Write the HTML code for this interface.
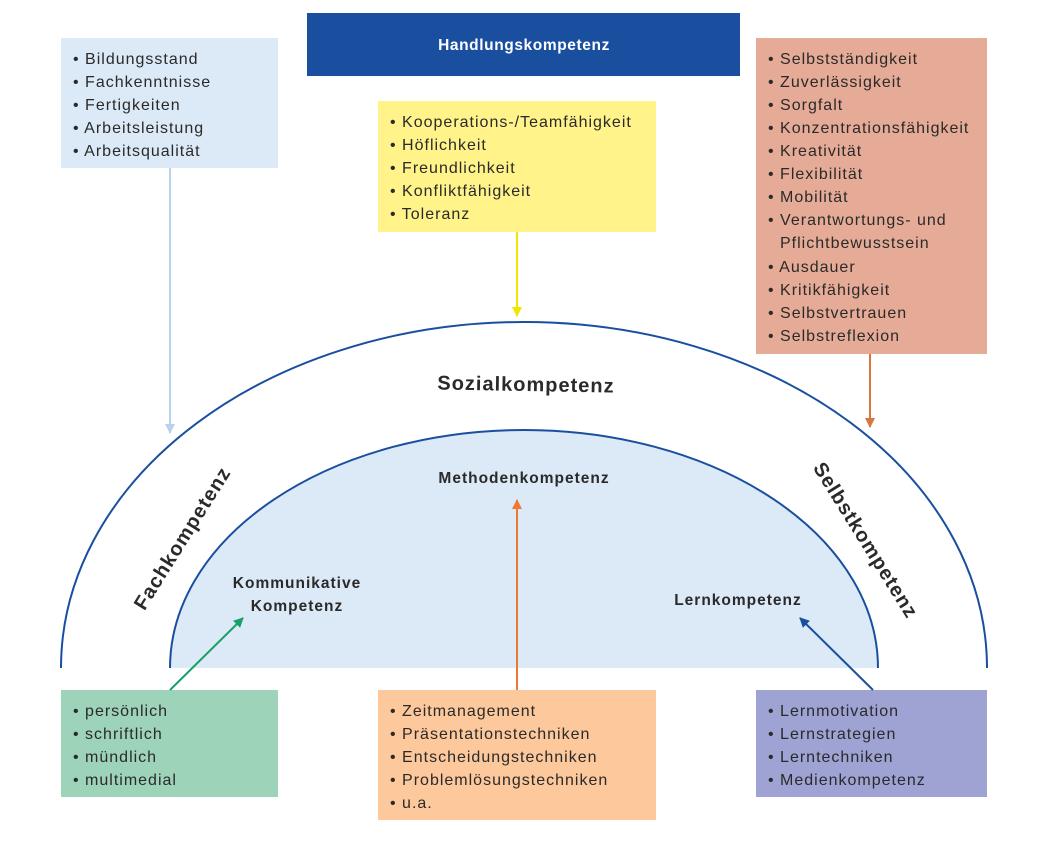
<!DOCTYPE html>
<html><head><meta charset="utf-8"><style>
html,body{margin:0;padding:0;background:#fff;}
svg{display:block;font-family:"Liberation Sans","DejaVu Sans",sans-serif;}
.t{font-size:16px;fill:#2a2a2a;letter-spacing:1px;}
.b{font-size:15.5px;fill:#2a2a2a;font-weight:bold;letter-spacing:1px;}
.L{font-size:20px;font-weight:bold;fill:#2a2a2a;letter-spacing:1px;}
</style></head><body>
<svg width="1060" height="844" viewBox="0 0 1060 844" xmlns="http://www.w3.org/2000/svg">
<defs>
<marker id="m1" markerWidth="10" markerHeight="10" refX="9" refY="5" orient="auto" markerUnits="userSpaceOnUse"><path d="M0,0 L10,5 L0,10 z" fill="#b9d3ec"/></marker>
<marker id="m2" markerWidth="10" markerHeight="10" refX="9" refY="5" orient="auto" markerUnits="userSpaceOnUse"><path d="M0,0 L10,5 L0,10 z" fill="#f2e600"/></marker>
<marker id="m3" markerWidth="10" markerHeight="10" refX="9" refY="5" orient="auto" markerUnits="userSpaceOnUse"><path d="M0,0 L10,5 L0,10 z" fill="#d8763e"/></marker>
<marker id="m4" markerWidth="10" markerHeight="10" refX="9" refY="5" orient="auto" markerUnits="userSpaceOnUse"><path d="M0,0 L10,5 L0,10 z" fill="#16a06a"/></marker>
<marker id="m5" markerWidth="10" markerHeight="10" refX="9" refY="5" orient="auto" markerUnits="userSpaceOnUse"><path d="M0,0 L10,5 L0,10 z" fill="#ec7a35"/></marker>
<marker id="m6" markerWidth="10" markerHeight="10" refX="9" refY="5" orient="auto" markerUnits="userSpaceOnUse"><path d="M0,0 L10,5 L0,10 z" fill="#1a4fa0"/></marker>
</defs>
<path d="M61,668 A463,346 0 0 1 987,668" fill="none" stroke="#1a4fa0" stroke-width="2"/>
<path d="M170,668 A354,238 0 0 1 878,668 Z" fill="#dce9f6"/>
<path d="M170,668 A354,238 0 0 1 878,668" fill="none" stroke="#1a4fa0" stroke-width="2"/>

<rect x="307" y="13" width="433" height="63" fill="#1a4fa0"/>
<text x="524" y="50" text-anchor="middle" font-size="15.5" font-weight="bold" fill="#fff" letter-spacing="0.6">Handlungskompetenz</text>

<rect x="61" y="38" width="217" height="130" fill="#dce9f6"/>
<g class="t">
<text x="73" y="64">• Bildungsstand</text>
<text x="73" y="87">• Fachkenntnisse</text>
<text x="73" y="110">• Fertigkeiten</text>
<text x="73" y="133">• Arbeitsleistung</text>
<text x="73" y="156">• Arbeitsqualität</text>
</g>

<rect x="378" y="101" width="278" height="131" fill="#fff38a"/>
<g class="t">
<text x="390" y="127">• Kooperations-/Teamfähigkeit</text>
<text x="390" y="150">• Höflichkeit</text>
<text x="390" y="173">• Freundlichkeit</text>
<text x="390" y="196">• Konfliktfähigkeit</text>
<text x="390" y="219">• Toleranz</text>
</g>

<rect x="756" y="38" width="231" height="316" fill="#e5ab96"/>
<g class="t">
<text x="768" y="64">• Selbstständigkeit</text>
<text x="768" y="87">• Zuverlässigkeit</text>
<text x="768" y="110">• Sorgfalt</text>
<text x="768" y="133">• Konzentrationsfähigkeit</text>
<text x="768" y="156">• Kreativität</text>
<text x="768" y="179">• Flexibilität</text>
<text x="768" y="202">• Mobilität</text>
<text x="768" y="225">• Verantwortungs- und</text>
<text x="780" y="248">Pflichtbewusstsein</text>
<text x="768" y="272">• Ausdauer</text>
<text x="768" y="295">• Kritikfähigkeit</text>
<text x="768" y="318">• Selbstvertrauen</text>
<text x="768" y="341">• Selbstreflexion</text>
</g>

<rect x="61" y="690" width="217" height="107" fill="#9dd3b8"/>
<g class="t">
<text x="73" y="716">• persönlich</text>
<text x="73" y="739">• schriftlich</text>
<text x="73" y="762">• mündlich</text>
<text x="73" y="785">• multimedial</text>
</g>
<rect x="378" y="690" width="278" height="130" fill="#fdc89b"/>
<g class="t">
<text x="390" y="716">• Zeitmanagement</text>
<text x="390" y="739">• Präsentationstechniken</text>
<text x="390" y="762">• Entscheidungstechniken</text>
<text x="390" y="785">• Problemlösungstechniken</text>
<text x="390" y="808">• u.a.</text>
</g>
<rect x="756" y="690" width="231" height="107" fill="#9ea3d3"/>
<g class="t">
<text x="768" y="716">• Lernmotivation</text>
<text x="768" y="739">• Lernstrategien</text>
<text x="768" y="762">• Lerntechniken</text>
<text x="768" y="785">• Medienkompetenz</text>
</g>

<line x1="170" y1="168" x2="170" y2="433" stroke="#b9d3ec" stroke-width="2" marker-end="url(#m1)"/>
<line x1="517" y1="232" x2="517" y2="316" stroke="#f2e600" stroke-width="2" marker-end="url(#m2)"/>
<line x1="870" y1="354" x2="870" y2="427" stroke="#d8763e" stroke-width="2" marker-end="url(#m3)"/>
<line x1="170" y1="690" x2="243" y2="618" stroke="#16a06a" stroke-width="2" marker-end="url(#m4)"/>
<line x1="517" y1="690" x2="517" y2="500" stroke="#ec7a35" stroke-width="2" marker-end="url(#m5)"/>
<line x1="873" y1="690" x2="800" y2="618" stroke="#1a4fa0" stroke-width="2" marker-end="url(#m6)"/>

<text x="526" y="391" text-anchor="middle" class="L" transform="rotate(1 526 384)">Sozialkompetenz</text>
<text x="0" y="7" text-anchor="middle" class="L" transform="translate(182,538) rotate(-58)">Fachkompetenz</text>
<text x="0" y="7" text-anchor="middle" class="L" transform="translate(866,540) rotate(58)">Selbstkompetenz</text>
<text x="524" y="483" text-anchor="middle" class="b">Methodenkompetenz</text>
<text x="297" y="588" text-anchor="middle" class="b">Kommunikative</text>
<text x="297" y="611" text-anchor="middle" class="b">Kompetenz</text>
<text x="738" y="605" text-anchor="middle" class="b">Lernkompetenz</text>
</svg>
</body></html>
